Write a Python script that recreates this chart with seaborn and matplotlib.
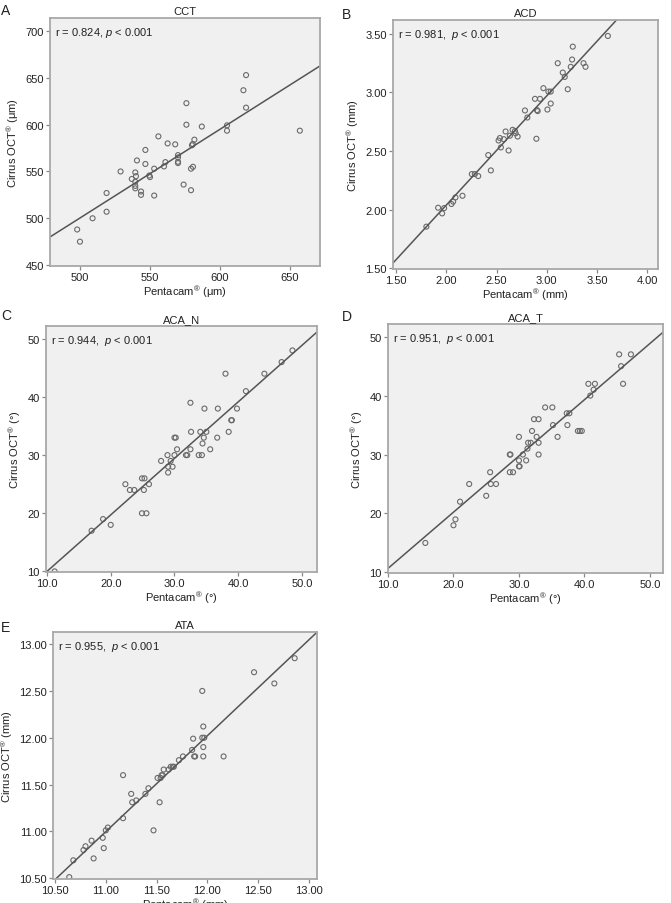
import numpy as np
import pandas as pd
import matplotlib
matplotlib.use("Agg")
import matplotlib.pyplot as plt
import seaborn as sns
from matplotlib.ticker import FormatStrFormatter

# ---------------- data ----------------
cct_x = [498, 500, 509, 519, 519, 529, 537, 539.5, 540, 539.5, 539.5, 539.5, 540.7, 546.7, 546.7,
         543.6, 543.6, 549.5, 550, 553, 553, 556, 560, 561, 562.6, 568, 570, 570, 570, 570, 574,
         576, 576, 579.3, 579.3, 580.5, 580, 580.7, 581.7, 587, 605, 605, 616.7, 618.6, 618.6, 657]
cct_y = [488, 475, 500, 507, 527, 550, 542, 549, 545, 539, 534.6, 532, 561.8, 573, 558,
         528.6, 525, 545.7, 544, 553, 524.3, 587.5, 555.4, 560, 580, 579, 567.5, 565, 560.4, 559, 536,
         623, 600, 553, 530, 579.3, 578, 555, 584, 598, 599.3, 593.6, 636.8, 653, 618.2, 593.6]

acd_x = [1.80, 1.917, 1.957, 1.977, 2.05, 2.067, 2.09, 2.16, 2.253, 2.283, 2.317, 2.417, 2.443,
         2.52, 2.533, 2.543, 2.573, 2.59, 2.62, 2.633, 2.66, 2.683, 2.69, 2.71, 2.783, 2.807,
         2.883, 2.897, 2.903, 2.91, 2.933, 2.967, 3.007, 3.017, 3.04, 3.04, 3.11, 3.16, 3.18,
         3.21, 3.24, 3.253, 3.26, 3.367, 3.387, 3.61]
acd_y = [1.855, 2.016, 1.968, 2.013, 2.048, 2.068, 2.104, 2.118, 2.303, 2.303, 2.286, 2.465, 2.334,
         2.589, 2.61, 2.53, 2.60, 2.666, 2.504, 2.63, 2.68, 2.67, 2.65, 2.623, 2.845, 2.785,
         2.944, 2.604, 2.848, 2.84, 2.944, 3.035, 2.853, 3.006, 3.006, 2.904, 3.248, 3.168, 3.131,
         3.026, 3.217, 3.279, 3.389, 3.248, 3.217, 3.48]

acan_x = [11.2, 17.0, 18.8, 20.0, 22.3, 23.0, 23.7, 24.9, 25.3, 25.2, 26.0, 24.9, 25.6, 27.9, 28.9,
          29.4, 29.0, 29.0, 29.7, 30.0, 30.0, 30.2, 30.4, 31.8, 32.0, 32.5, 32.5, 32.6, 33.8, 34.3,
          34.05, 34.4, 34.6, 34.7, 35.0, 35.6, 36.7, 36.8, 38.0, 38.5, 38.9, 39.0, 39.8, 41.2, 44.1,
          46.8, 48.5]
acan_y = [10, 17, 19, 18, 25, 24, 24, 26, 26, 24, 25, 20, 20, 29, 30,
          29, 28, 27, 28, 30, 33, 33, 31, 30, 30, 31, 39, 34, 30, 30,
          34, 32, 33, 38, 34, 31, 33, 38, 44, 34, 36, 36, 38, 41, 44,
          46, 48]

acat_x = [15.7, 20.0, 20.3, 21.0, 22.4, 25.0, 25.6, 25.7, 26.5, 28.6, 28.7, 28.6, 29.1, 30.0, 30.0,
          30.0, 30.1, 30.6, 31.1, 31.3, 31.4, 31.8, 32.0, 32.3, 33.0, 32.7, 33.0, 33.0, 34.0, 35.1,
          35.2, 35.9, 37.4, 37.3, 37.7, 39.0, 39.3, 39.6, 40.6, 41.6, 40.9, 41.4, 45.3, 45.6, 45.9,
          47.1]
acat_y = [15, 18, 19, 22, 25, 23, 27, 25, 25, 30, 30, 27, 27, 33, 29,
          28, 28, 30, 29, 31, 32, 32, 34, 36, 36, 33, 32, 30, 38, 38,
          35, 33, 35, 37, 37, 34, 34, 34, 42, 42, 40, 41, 47, 45, 42,
          47]

ata_x = [10.64, 10.68, 10.78, 10.80, 10.86, 10.88, 10.97, 10.98, 11.00, 11.02, 11.17, 11.17, 11.25,
         11.26, 11.30, 11.39, 11.42, 11.47, 11.53, 11.51, 11.54, 11.55, 11.57, 11.56, 11.62, 11.64,
         11.66, 11.67, 11.72, 11.76, 11.85, 11.86, 11.87, 11.88, 11.95, 11.96, 11.95, 11.97, 11.96,
         11.96, 12.16, 12.46, 12.66, 12.86]
ata_y = [10.51, 10.69, 10.80, 10.84, 10.90, 10.71, 10.93, 10.82, 11.01, 11.04, 11.14, 11.60, 11.40,
         11.31, 11.33, 11.40, 11.46, 11.01, 11.31, 11.57, 11.57, 11.60, 11.66, 11.60, 11.66, 11.69,
         11.69, 11.69, 11.76, 11.80, 11.87, 11.99, 11.80, 11.80, 12.50, 12.12, 12.00, 12.00, 11.90,
         11.80, 11.80, 12.70, 12.58, 12.85]

titles = ["CCT", "ACD", "ACA_N", "ACA_T", "ATA"]
letters = ["A", "B", "C", "D", "E"]
units = ["μm", "mm", "°", "°", "mm"]
r_values = ["0.824", "0.981", "0.944", "0.951", "0.955"]
separators = [" ", "  ", "  ", "  ", "  "]
slopes = [0.948, 0.929, 0.972, 0.954, 1.025]
intercepts = [26.3, 0.182, 0.28, 1.14, -0.279]

# ---------------- styling / layout ----------------
sns.set_theme(style="ticks", rc={
    "axes.facecolor": "#f0f0f0",
    "axes.edgecolor": "#a8a8a8",
    "axes.linewidth": 1.3,
    "xtick.color": "#888888",
    "ytick.color": "#888888",
    "xtick.labelcolor": "#222222",
    "ytick.labelcolor": "#222222",
    "xtick.major.size": 3,
    "ytick.major.size": 3,
    "xtick.major.width": 0.9,
    "ytick.major.width": 0.9,
    "xtick.major.pad": 1.5,
    "ytick.major.pad": 1.5,
    "text.color": "#222222",
    "axes.labelcolor": "#222222",
})
plt.rcParams["font.family"] = ["Liberation Sans", "DejaVu Sans"]
plt.rcParams["mathtext.fontset"] = "custom"
plt.rcParams["mathtext.rm"] = "Liberation Sans"
plt.rcParams["mathtext.it"] = "Liberation Sans:italic"

W, H = 671, 904
fig = plt.figure(figsize=(W / 100, H / 100), dpi=100)

# pixel boxes (left, top, right, bottom)
boxes = [(50, 19, 320, 267), (393, 21, 658, 270), (46, 327, 317, 573),
         (388, 325, 663, 574), (53, 633, 317, 880)]
xlims = [(478.6, 671.4), (1.467, 4.11), (9.85, 52.35), (10.0, 52.0), (10.48, 13.08)]
ylims = [(449, 714), (1.494, 3.616), (9.9, 52.2), (9.9, 52.15), (10.49, 13.13)]
xticks = [[500, 550, 600, 650], np.arange(1.5, 4.01, 0.5), np.arange(10, 51, 10),
          np.arange(10, 51, 10), np.arange(10.5, 13.01, 0.5)]
yticks = [np.arange(450, 701, 50), np.arange(1.5, 3.51, 0.5), np.arange(10, 51, 10),
          np.arange(10, 51, 10), np.arange(10.5, 13.01, 0.5)]
xfmt = ["%d", "%.2f", "%.1f", "%.1f", "%.2f"]
yfmt = ["%d", "%.2f", "%d", "%d", "%.2f"]
letter_pos = [(1, 11), (342, 15), (1, 316), (342, 317), (1, 628)]

datasets = [(cct_x, cct_y), (acd_x, acd_y), (acan_x, acan_y), (acat_x, acat_y), (ata_x, ata_y)]

for i, (xs, ys) in enumerate(datasets):
    l, t, r, b = boxes[i]
    ax = fig.add_axes([l / W, 1 - b / H, (r - l) / W, (b - t) / H])
    df = pd.DataFrame({"x": xs, "y": ys})
    sns.scatterplot(data=df, x="x", y="y", ax=ax, marker="o", s=13,
                    facecolors="none", edgecolor="#6a6a6a", linewidth=0.8, legend=False)
    ax.axline((0, intercepts[i]), slope=slopes[i], color="#555555", lw=1.1, zorder=1)
    ax.set_xlim(*xlims[i])
    ax.set_ylim(*ylims[i])
    ax.set_xticks(xticks[i])
    ax.set_yticks(yticks[i])
    ax.xaxis.set_major_formatter(FormatStrFormatter(xfmt[i]))
    ax.yaxis.set_major_formatter(FormatStrFormatter(yfmt[i]))
    ax.tick_params(labelsize=8)
    for sp in ax.spines.values():
        sp.set_visible(True)
    ax.set_xlabel("Pentacam$^{®}$ (%s)" % units[i], fontsize=8, labelpad=0.5)
    ax.set_ylabel("Cirrus OCT$^{®}$ (%s)" % units[i], fontsize=8, labelpad=3)
    ax.set_title(titles[i], fontsize=8, pad=3)
    ax.text(0.018, 0.97, "r = %s,%s$p$ < 0.001" % (r_values[i], separators[i]),
            transform=ax.transAxes, ha="left", va="top", fontsize=8)
    lx, ly = letter_pos[i]
    fig.text(lx / W, 1 - ly / H, letters[i], fontsize=10, ha="left", va="center")

fig.savefig("out.png", dpi=100, facecolor="white")
